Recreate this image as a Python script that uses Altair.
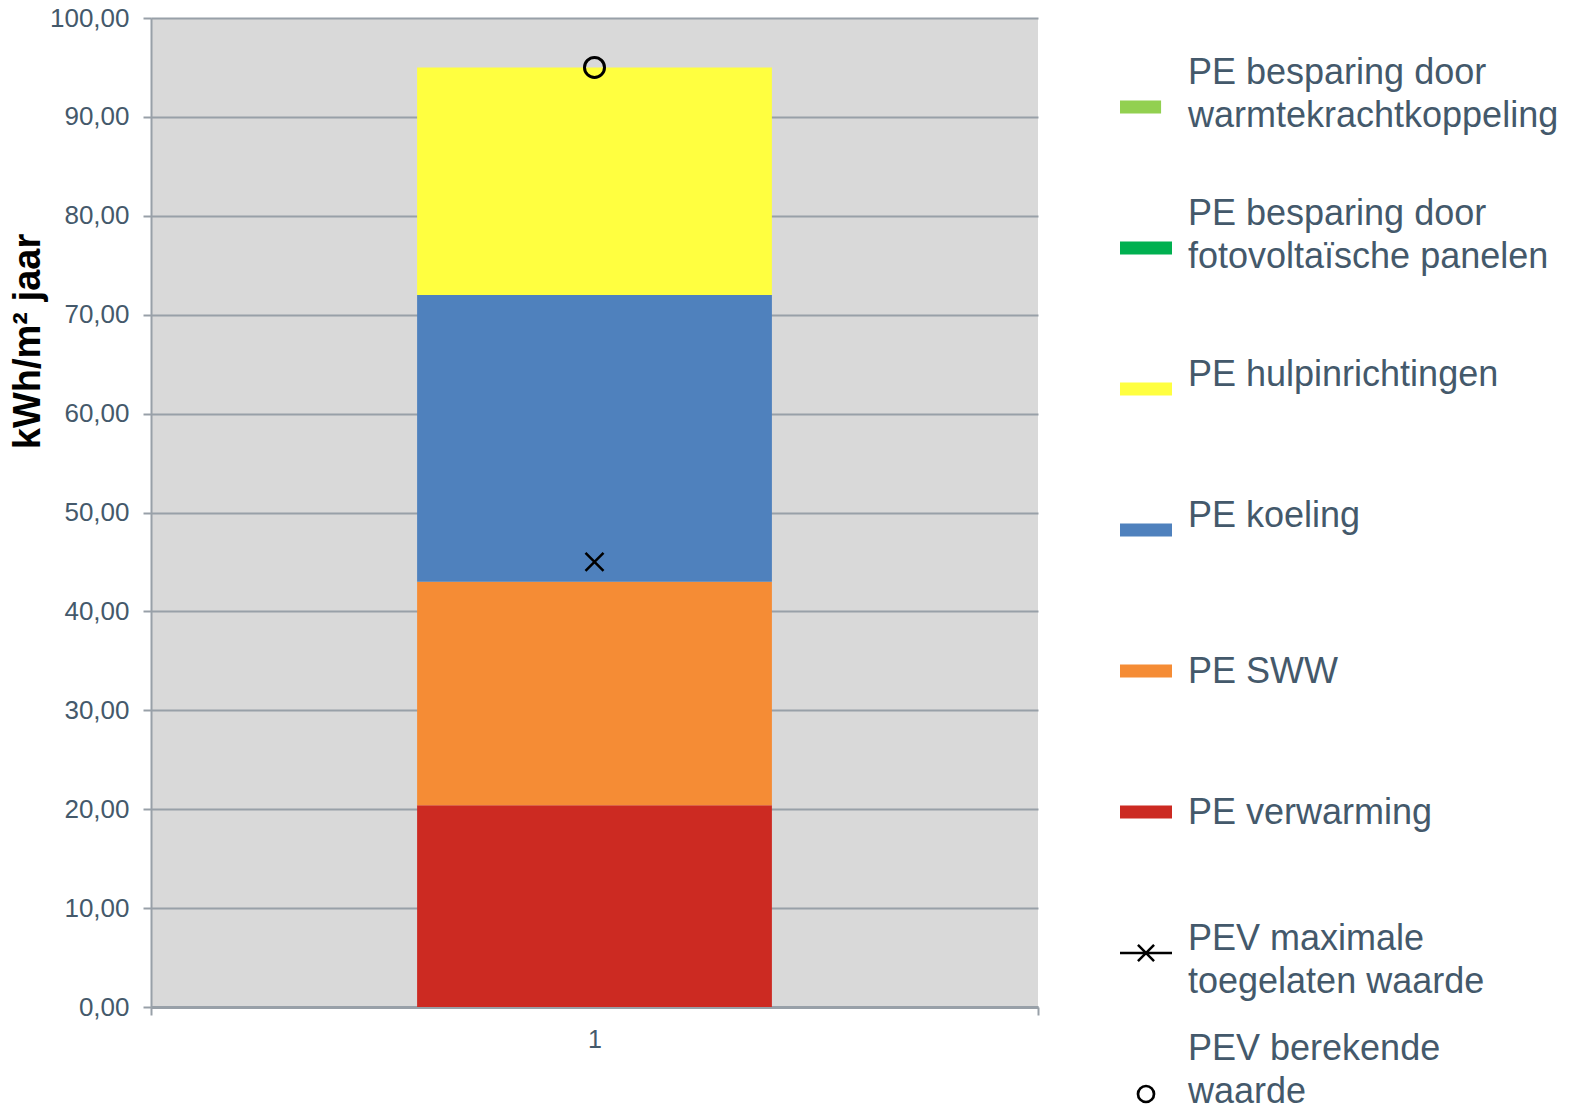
import altair as alt
import pandas as pd

# ---- data ----
category = ["1"]
bar_series = ["PE verwarming", "PE SWW", "PE koeling", "PE hulpinrichtingen",
              "PE besparing door fotovoltaïsche panelen",
              "PE besparing door warmtekrachtkoppeling"]
bar_values = [20.4, 22.6, 29.0, 23.0, 0.0, 0.0]
bar_colors = ["#cc2a22", "#f58c35", "#4f81bd", "#ffff40", "#00b050", "#92d050"]

pev_max = 45.0
pev_calc = 95.0

y_ticks = [0, 10, 20, 30, 40, 50, 60, 70, 80, 90, 100]

legend_keys = ["wkk", "pv", "hulp", "koel", "sww", "verw", "pevmax", "pevcalc"]
legend_labels = ["PE besparing door\nwarmtekrachtkoppeling",
                 "PE besparing door\nfotovoltaïsche panelen",
                 "PE hulpinrichtingen",
                 "PE koeling",
                 "PE SWW",
                 "PE verwarming",
                 "PEV maximale\ntoegelaten waarde",
                 "PEV berekende\nwaarde"]
legend_kind = ["bar", "bar", "bar", "bar", "bar", "bar", "xline", "circle"]
legend_colors = ["#92d050", "#00b050", "#ffff40", "#4f81bd", "#f58c35", "#cc2a22",
                 "#000000", "#000000"]

FONT = "Liberation Sans"
TXT = "#44596b"
GRID = "#98a0a8"

# ---- main chart ----
bars_df = pd.DataFrame({
    "cat": category * len(bar_series),
    "series": bar_series,
    "value": bar_values,
    "ord": list(range(len(bar_series))),
})
pts_df = pd.DataFrame({
    "cat": category * 2,
    "name": ["PEV maximale toegelaten waarde", "PEV berekende waarde"],
    "value": [pev_max, pev_calc],
})

x_enc = alt.X("cat:N", title=None,
              scale=alt.Scale(paddingInner=0, paddingOuter=0),
              axis=alt.Axis(labelAngle=0, tickBand="extent", tickSize=8,
                            tickWidth=2, tickColor=GRID, domainColor=GRID,
                            domainWidth=3, labelFontSize=25, labelColor=TXT,
                            labelFont=FONT, labelPadding=12, grid=False))

y_scale = alt.Scale(domain=[0, 100], nice=False)
y_axis = alt.Axis(values=y_ticks,
                  labelExpr="replace(format(datum.value, '.2f'), '.', ',')",
                  labelFontSize=26, labelColor=TXT, labelFont=FONT,
                  labelPadding=14, tickSize=8, tickWidth=2, tickColor=GRID,
                  domainColor=GRID, domainWidth=2, grid=True, gridColor=GRID,
                  gridWidth=2, title="kWh/m² jaar", titleFont=FONT,
                  titleFontSize=38, titleFontWeight="bold", titleColor="#000000",
                  titleAngle=-90, titleX=-142, titleY=323,
                  titleBaseline="top", titleAlign="center")

bars = alt.Chart(bars_df).mark_bar(width={"band": 0.4}).encode(
    x=x_enc,
    y=alt.Y("value:Q", stack="zero", scale=y_scale, axis=y_axis),
    color=alt.Color("series:N", scale=alt.Scale(domain=bar_series, range=bar_colors),
                    legend=None),
    order=alt.Order("ord:Q"),
)

xmark = alt.Chart(pts_df).transform_filter(
    alt.datum.name == "PEV maximale toegelaten waarde"
).mark_point(shape="M-1,-1L1,1M-1,1L1,-1", size=324, filled=False,
             strokeWidth=2.5, color="#000000", opacity=1).encode(
    x="cat:N", y=alt.Y("value:Q", scale=y_scale))

cmark = alt.Chart(pts_df).transform_filter(
    alt.datum.name == "PEV berekende waarde"
).mark_point(shape="circle", size=400, filled=False,
             strokeWidth=3, color="#000000", opacity=1).encode(
    x="cat:N", y=alt.Y("value:Q", scale=y_scale))

main = alt.layer(bars, xmark, cmark).properties(
    width=887, height=989,
    view=alt.ViewBackground(fill="#d9d9d9", stroke=None),
)

# ---- legend panel ----
leg_df = pd.DataFrame({
    "key": legend_keys,
    "label": legend_labels,
    "kind": legend_kind,
    "col": legend_colors,
})
leg_y = alt.Y("key:N", axis=None,
              scale=alt.Scale(type="point", domain=legend_keys, range=[89, 1076],
                              padding=0))
leg_col = alt.Color("col:N", scale=None, legend=None)

sw = alt.Chart(leg_df).transform_filter(
    (alt.datum.kind == "bar") & (alt.datum.key != "wkk")
).mark_point(
    shape="M-1,-0.25H1V0.25H-1Z", size=2704, filled=True, opacity=1,
    strokeWidth=0).encode(x=alt.value(26), y=leg_y, color=leg_col)

sw_short = alt.Chart(leg_df).transform_filter(alt.datum.key == "wkk").mark_point(
    shape="M-1,-0.25H0.58V0.25H-1Z", size=2704, filled=True, opacity=1,
    strokeWidth=0).encode(x=alt.value(26), y=leg_y, color=leg_col)

lx = alt.Chart(leg_df).transform_filter(alt.datum.kind == "xline").mark_point(
    shape="M-1,0H1M-0.31,-0.31L0.31,0.31M-0.31,0.31L0.31,-0.31", size=2704,
    filled=False, strokeWidth=2.5, color="#000000", opacity=1).encode(
    x=alt.value(26), y=leg_y)

lc = alt.Chart(leg_df).transform_filter(alt.datum.kind == "circle").mark_point(
    shape="circle", size=256, filled=False, strokeWidth=2.7,
    color="#000000", opacity=1).encode(
    x=alt.value(26), y=leg_y)


def text_layer(keys, dy):
    return alt.Chart(leg_df).transform_filter(
        alt.FieldOneOfPredicate(field="key", oneOf=keys)
    ).mark_text(
        align="left", baseline="middle", lineBreak="\n", fontSize=36,
        lineHeight=43, font=FONT, color=TXT, dy=dy).encode(
        x=alt.value(68), y=leg_y, text="label:N")


texts = [
    text_layer(["wkk", "pv"], -34),
    text_layer(["hulp", "koel", "pevmax"], -14),
    text_layer(["sww", "verw"], 1),
    text_layer(["pevcalc"], -45),
]

legend = alt.layer(sw, sw_short, lx, lc, *texts).properties(
    width=445, height=1085,
    view=alt.ViewBackground(fill=None, stroke=None),
)

chart = alt.hconcat(main, legend, spacing=76).properties(
    padding={"left": 9, "top": 5, "right": 0, "bottom": 0},
    background="#ffffff",
).configure_view(stroke=None).configure(font=FONT)

chart.save("out.html", embed_options={"renderer": "svg", "actions": False})
